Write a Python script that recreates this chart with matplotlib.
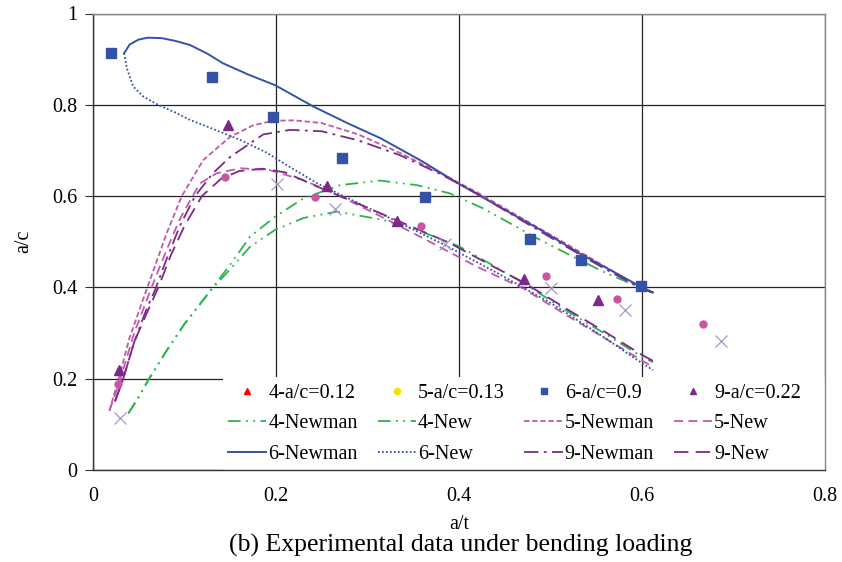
import matplotlib
matplotlib.use('Agg')
import matplotlib.pyplot as plt
from matplotlib.lines import Line2D
from matplotlib.patches import Rectangle

plt.rcParams['font.family'] = ['Liberation Serif', 'DejaVu Serif']

# experimental points
x6 = [0.020, 0.130, 0.197, 0.272, 0.3625, 0.478, 0.533, 0.599]
y6 = [0.913, 0.860, 0.774, 0.684, 0.597, 0.506, 0.459, 0.402]

x9 = [0.028, 0.148, 0.256, 0.332, 0.471, 0.552]
y9 = [0.219, 0.756, 0.623, 0.545, 0.418, 0.372]

x5 = [0.027, 0.144, 0.243, 0.358, 0.495, 0.573, 0.667]
y5 = [0.188, 0.641, 0.599, 0.534, 0.425, 0.375, 0.319]

x4 = [0.0295, 0.2015, 0.2645, 0.385, 0.5005, 0.581, 0.686]
y4 = [0.114, 0.626, 0.572, 0.495, 0.399, 0.350, 0.283]

# model curves
x6_newman = [0.034, 0.040, 0.050, 0.060, 0.075, 0.090, 0.106, 0.125, 0.142, 0.170, 0.199,
             0.241, 0.280, 0.314, 0.360, 0.399, 0.450, 0.490, 0.533, 0.570, 0.599, 0.612]
y6_newman = [0.913, 0.932, 0.943, 0.947, 0.946, 0.940, 0.931, 0.912, 0.891, 0.866, 0.843,
             0.796, 0.758, 0.727, 0.676, 0.628, 0.570, 0.525, 0.473, 0.433, 0.401, 0.389]

x6_new = [0.034, 0.037, 0.044, 0.055, 0.071, 0.090, 0.106, 0.130, 0.161, 0.190, 0.215,
          0.245, 0.280, 0.317, 0.350, 0.390, 0.445, 0.500, 0.550, 0.600, 0.612]
y6_new = [0.913, 0.880, 0.840, 0.818, 0.800, 0.783, 0.767, 0.748, 0.723, 0.695, 0.664,
          0.628, 0.594, 0.559, 0.527, 0.487, 0.428, 0.366, 0.302, 0.234, 0.219]

x5_newman = [0.018, 0.028, 0.040, 0.0594, 0.0805, 0.097, 0.1205, 0.150, 0.175, 0.197, 0.220,
             0.250, 0.290, 0.335, 0.380, 0.420, 0.470, 0.520, 0.560, 0.600, 0.612]
y5_newman = [0.130, 0.200, 0.290, 0.400, 0.5185, 0.600, 0.679, 0.730, 0.755, 0.765, 0.766,
             0.760, 0.735, 0.695, 0.650, 0.608, 0.550, 0.492, 0.445, 0.398, 0.388]

x5_new = [0.018, 0.030, 0.045, 0.064, 0.080, 0.095, 0.106, 0.117, 0.135, 0.161, 0.193,
          0.230, 0.270, 0.320, 0.370, 0.420, 0.470, 0.520, 0.560, 0.600, 0.612]
y5_new = [0.130, 0.200, 0.300, 0.400, 0.480, 0.550, 0.590, 0.628, 0.650, 0.661, 0.657,
          0.635, 0.600, 0.550, 0.498, 0.445, 0.398, 0.336, 0.288, 0.240, 0.226]

x9_newman = [0.024, 0.033, 0.045, 0.058, 0.0678, 0.080, 0.095, 0.1115, 0.131, 0.150, 0.186,
             0.215, 0.250, 0.290, 0.335, 0.380, 0.420, 0.470, 0.520, 0.560, 0.600, 0.612]
y9_newman = [0.150, 0.200, 0.280, 0.350, 0.394, 0.460, 0.535, 0.600, 0.650, 0.686, 0.735,
             0.745, 0.742, 0.722, 0.690, 0.648, 0.605, 0.545, 0.486, 0.440, 0.397, 0.388]

x9_new = [0.024, 0.033, 0.045, 0.058, 0.0714, 0.085, 0.100, 0.119, 0.140, 0.160, 0.185,
          0.210, 0.245, 0.290, 0.3355, 0.390, 0.440, 0.4714, 0.520, 0.560, 0.600, 0.612]
y9_new = [0.150, 0.200, 0.280, 0.340, 0.400, 0.470, 0.535, 0.600, 0.638, 0.655, 0.660,
          0.652, 0.621, 0.583, 0.544, 0.497, 0.443, 0.410, 0.350, 0.302, 0.252, 0.239]

x4_newman = [0.0386, 0.050, 0.0604, 0.080, 0.100, 0.1315, 0.150, 0.1716, 0.199, 0.230,
             0.270, 0.3137, 0.354, 0.390, 0.4265, 0.4885, 0.525, 0.560, 0.600, 0.612]
y4_newman = [0.124, 0.160, 0.197, 0.260, 0.320, 0.4015, 0.450, 0.511, 0.555, 0.595,
             0.624, 0.634, 0.624, 0.606, 0.573, 0.504, 0.467, 0.432, 0.398, 0.389]

x4_new = [0.0386, 0.050, 0.0604, 0.080, 0.100, 0.1315, 0.150, 0.1716, 0.199, 0.230,
          0.2663, 0.317, 0.354, 0.400, 0.440, 0.4714, 0.520, 0.560, 0.600, 0.612]
y4_new = [0.124, 0.160, 0.197, 0.260, 0.320, 0.400, 0.440, 0.489, 0.526, 0.552,
          0.566, 0.548, 0.526, 0.490, 0.445, 0.408, 0.346, 0.298, 0.248, 0.236]

xticks = [0, 0.2, 0.4, 0.6, 0.8]
xtick_labels = ['0', '0.2', '0.4', '0.6', '0.8']
yticks = [0, 0.2, 0.4, 0.6, 0.8, 1.0]
ytick_labels = ['0', '0.2', '0.4', '0.6', '0.8', '1']

green = '#2db34e'
blue = '#3452a8'
pink = '#c458aa'
purple = '#7c2a88'

fig = plt.figure(figsize=(8.42, 5.62), dpi=100)
ax = fig.add_axes([93 / 842, 92 / 562, 732 / 842, 456.5 / 562])

lw = 1.3
ax.plot(x4_newman, y4_newman, color=green, lw=lw, dashes=(7, 3, 1, 3, 1, 3))
ax.plot(x4_new, y4_new, color=green, lw=lw, dashes=(7, 3, 1, 3, 1, 3))
ax.plot(x5_newman, y5_newman, color=pink, lw=lw, dashes=(3, 1.5))
ax.plot(x5_new, y5_new, color=pink, lw=lw, dashes=(5, 3))
ax.plot(x6_newman, y6_newman, color=blue, lw=1.4, ls='-')
ax.plot(x6_new, y6_new, color=blue, lw=1.3, dashes=(1, 1.2))
ax.plot(x9_newman, y9_newman, color=purple, lw=lw, dashes=(8, 3, 1.5, 3))
ax.plot(x9_new, y9_new, color=purple, lw=lw, dashes=(8, 4))

ax.plot(x6, y6, ls='none', marker='s', ms=6.5, color=blue)
ax.plot(x9, y9, ls='none', marker='^', ms=7, color=purple)
ax.plot(x5, y5, ls='none', marker='o', ms=5, color='#c955a4')
ax.plot(x4, y4, ls='none', marker='x', ms=8, mew=0.9, color='#a697c9')

ax.set_xlim(0, 0.8)
ax.set_ylim(0, 1)
ax.set_xticks(xticks)
ax.set_xticklabels(xtick_labels)
ax.set_yticks(yticks)
ax.set_yticklabels(ytick_labels)
ax.tick_params(axis='x', direction='in', length=4, pad=12, labelsize=14.5, color='#333333')
ax.tick_params(axis='y', direction='out', length=6, pad=5, labelsize=14.5, color='#333333')
ax.grid(True, color='#222222', lw=0.9)
ax.set_axisbelow(True)
for s in ['left', 'bottom']:
    ax.spines[s].set_color('#333333')
for s in ['top', 'right']:
    ax.spines[s].set_color('#888888')
for s in ax.spines.values():
    s.set_linewidth(1.0)

ax.set_xlabel('a/t', fontsize=14.5, labelpad=7)
ax.set_ylabel('a/c', fontsize=14.5, labelpad=14)
fig.text(0.547, 0.03, '(b) Experimental data under bending loading', ha='center', va='center', fontsize=18.5)

# white block behind the legend hides the grid there
ax.add_patch(Rectangle((130 / 732, 0), 602 / 732, 93 / 456.5, transform=ax.transAxes,
                       facecolor='white', edgecolor='none', zorder=1))

# legend, filled column by column
handles = [
    Line2D([], [], ls='none', marker='^', ms=5, color='#ff0000'),
    Line2D([], [], color=green, lw=lw, dashes=(7, 3, 1, 3, 1, 3)),
    Line2D([], [], color=blue, lw=1.4),
    Line2D([], [], ls='none', marker='o', ms=4.5, color='#f5e400'),
    Line2D([], [], color=green, lw=lw, dashes=(7, 3, 1, 3, 1, 3)),
    Line2D([], [], color=blue, lw=1.3, dashes=(1, 1.2)),
    Line2D([], [], ls='none', marker='s', ms=4.5, color=blue),
    Line2D([], [], color=pink, lw=lw, dashes=(3, 1.5)),
    Line2D([], [], color=purple, lw=lw, dashes=(8, 3, 1.5, 3)),
    Line2D([], [], ls='none', marker='^', ms=5, color=purple),
    Line2D([], [], color=pink, lw=lw, dashes=(5, 3)),
    Line2D([], [], color=purple, lw=lw, dashes=(8, 4)),
]
labels = ['4-a/c=0.12', '4-Newman', '6-Newman',
          '5-a/c=0.13', '4-New', '6-New',
          '6-a/c=0.9', '5-Newman', '9-Newman',
          '9-a/c=0.22', '5-New', '9-New']
leg = ax.legend(handles, labels, ncol=4, loc='lower left',
                bbox_to_anchor=(130 / 732, 0.003, 583 / 732, 92 / 456.5), mode='expand',
                fontsize=14.5, frameon=False, handlelength=1.9, handletextpad=0.1,
                borderpad=0.25, labelspacing=0.55, borderaxespad=0)

fig.savefig('out.png', dpi=100)
